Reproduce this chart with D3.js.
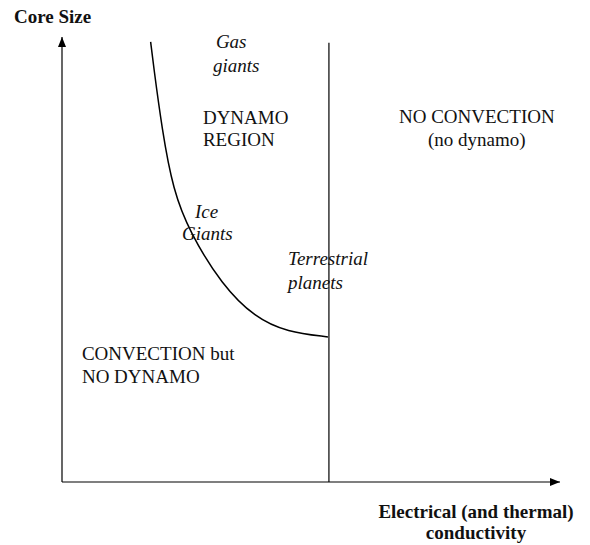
<!DOCTYPE html>
<meta charset="utf-8">
<style>
body { margin: 0; background: #fff; }
text { font-family: "Liberation Serif", "Times New Roman", serif; font-size: 19px; fill: #111; }
.bold { font-weight: bold; }
.ital { font-style: italic; }
</style>
<svg width="590" height="545"></svg>
<script src="https://d3js.org/d3.v7.min.js"></script>
<script>

// boundary between dynamo / no dynamo (conductivity, core size), arbitrary units 0..10
var curveX = [1.78, 1.83, 2.01, 2.23, 2.57, 3.21, 3.88, 4.52, 5.34];
var curveY = [9.89, 9.42, 7.91, 6.56, 5.60, 4.43, 3.69, 3.37, 3.26];

// convection limit in conductivity
var convLimit = 5.36;
var convTop = 9.87;

// region labels
var labelText = ["Gas", "giants", "DYNAMO", "REGION", "NO CONVECTION", "(no dynamo)",
                 "Ice", "Giants", "Terrestrial", "planets", "CONVECTION but", "NO DYNAMO"];
var labelX = [3.09, 3.03, 2.83, 2.83, 8.33, 8.33, 2.67, 2.41, 4.54, 4.54, 0.40, 0.40];
var labelY = [9.75, 9.21, 8.04, 7.55, 8.07, 7.55, 5.93, 5.44, 4.88, 4.34, 2.74, 2.22];
var labelStyle = ["ital", "ital", "", "", "", "", "ital", "ital", "ital", "ital", "", ""];

var svg = d3.select("svg");

var x = d3.scaleLinear().domain([0, 10]).range([62, 560]);
var y = d3.scaleLinear().domain([0, 10]).range([482, 37]);

svg.append("defs").append("marker")
    .attr("id", "arr")
    .attr("viewBox", "0 0 10 10")
    .attr("refX", 10).attr("refY", 5)
    .attr("markerWidth", 10).attr("markerHeight", 10)
    .attr("markerUnits", "userSpaceOnUse")
    .attr("orient", "auto")
  .append("path")
    .attr("d", "M0,1L10,5L0,9Z")
    .attr("fill", "#000");

// axes
svg.append("line")
    .attr("x1", x(0)).attr("y1", y(0))
    .attr("x2", x(0)).attr("y2", y(10))
    .attr("stroke", "#000").attr("stroke-width", 1.2)
    .attr("marker-end", "url(#arr)");

svg.append("line")
    .attr("x1", x(0)).attr("y1", y(0))
    .attr("x2", x(10)).attr("y2", y(0))
    .attr("stroke", "#000").attr("stroke-width", 1.2)
    .attr("marker-end", "url(#arr)");

// vertical convection limit
svg.append("line")
    .attr("x1", x(convLimit)).attr("y1", y(0))
    .attr("x2", x(convLimit)).attr("y2", y(convTop))
    .attr("stroke", "#000").attr("stroke-width", 1.2);

var pts = curveX.map(function(d, i) { return [d, curveY[i]]; });

svg.append("path")
    .datum(pts)
    .attr("d", d3.line()
        .x(function(d) { return x(d[0]); })
        .y(function(d) { return y(d[1]); })
        .curve(d3.curveBasis))
    .attr("fill", "none")
    .attr("stroke", "#000")
    .attr("stroke-width", 1.5);

// labels inside plot
svg.selectAll("text.lab")
  .data(labelText)
  .enter().append("text")
    .attr("class", function(d, i) { return "lab " + labelStyle[i]; })
    .attr("x", function(d, i) { return x(labelX[i]); })
    .attr("y", function(d, i) { return y(labelY[i]); })
    .attr("text-anchor", function(d, i) { return i == 4 || i == 5 ? "middle" : "start"; })
    .text(function(d) { return d; });

// axis titles
svg.append("text").attr("class", "bold")
    .attr("x", 14).attr("y", 23)
    .text("Core Size");

svg.append("text").attr("class", "bold")
    .attr("x", 476).attr("y", 518)
    .attr("text-anchor", "middle")
    .text("Electrical (and thermal)");

svg.append("text").attr("class", "bold")
    .attr("x", 476).attr("y", 539)
    .attr("text-anchor", "middle")
    .text("conductivity");

</script>
